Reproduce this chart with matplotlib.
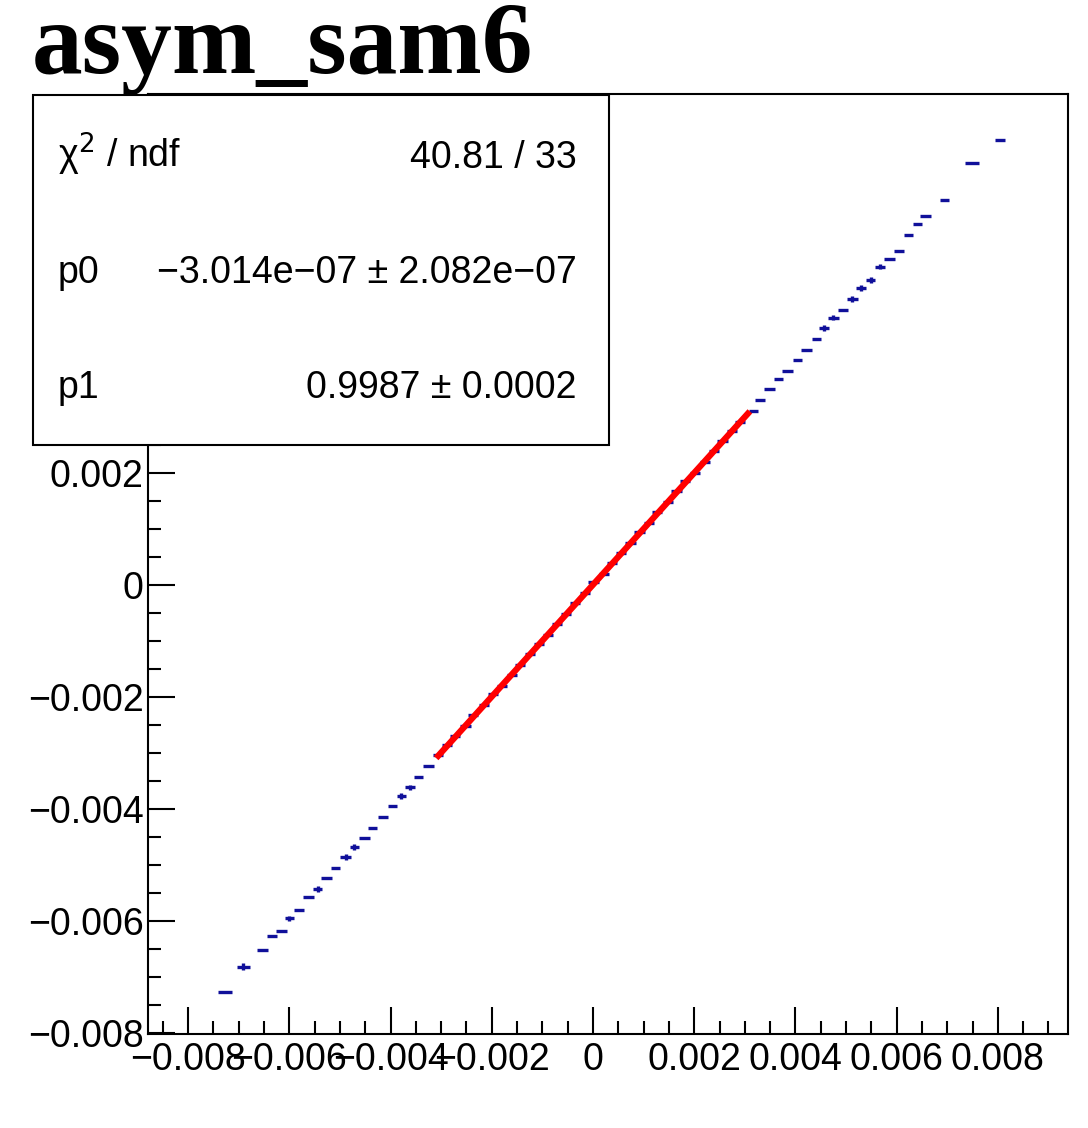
# asym_sam6 : linear fit of asymmetry points

from matplotlib import pyplot as plt
from matplotlib import rcParams
from matplotlib.patches import Rectangle
from matplotlib.ticker import MultipleLocator, FuncFormatter
import numpy as np

rcParams['font.family'] = 'Liberation Sans'
rcParams['axes.linewidth'] = 1.5

# Points (x, y) with errors
x_val = [-0.00727, -0.00691, -0.00653, -0.00635, -0.00615, -0.00600, -0.00581,
         -0.00563, -0.00544, -0.00526, -0.00508, -0.00489, -0.00472, -0.00452,
         -0.00435, -0.00415, -0.00397, -0.00379, -0.00362, -0.00344, -0.00325,
         -0.00307, -0.00289, -0.00272, -0.00252, -0.00237, -0.00216, -0.00198,
         -0.00180, -0.00160, -0.00144, -0.00124, -0.00106, -0.00089, -0.00071,
         -0.00053, -0.00035, -0.00015, 0.00001, 0.00021, 0.00038, 0.00055,
         0.00074, 0.00092, 0.00110, 0.00126, 0.00148, 0.00165, 0.00182,
         0.00202, 0.00222, 0.00239, 0.00256, 0.00275, 0.00291, 0.00317,
         0.00330, 0.00349, 0.00367, 0.00385, 0.00404, 0.00422, 0.00441,
         0.00457, 0.00475, 0.00494, 0.00512, 0.00530, 0.00549, 0.00567,
         0.00586, 0.00604, 0.00623, 0.00641, 0.00657, 0.00694, 0.00749, 0.00804]
y_val = [-0.00728, -0.00682, -0.00652, -0.00628, -0.00619, -0.00596, -0.00581,
         -0.00557, -0.00543, -0.00524, -0.00505, -0.00486, -0.00468, -0.00453,
         -0.00434, -0.00415, -0.00395, -0.00377, -0.00362, -0.00343, -0.00324,
         -0.00304, -0.00286, -0.00271, -0.00252, -0.00233, -0.00214, -0.00195,
         -0.00181, -0.00162, -0.00143, -0.00124, -0.00105, -0.00090, -0.00071,
         -0.00052, -0.00033, -0.00014, 0.00005, 0.00019, 0.00038, 0.00056,
         0.00075, 0.00095, 0.00110, 0.00129, 0.00148, 0.00167, 0.00186,
         0.00200, 0.00219, 0.00238, 0.00257, 0.00275, 0.00291, 0.00310,
         0.00330, 0.00349, 0.00368, 0.00382, 0.00401, 0.00420, 0.00439,
         0.00458, 0.00477, 0.00491, 0.00510, 0.00530, 0.00544, 0.00568,
         0.00582, 0.00596, 0.00625, 0.00644, 0.00658, 0.00687, 0.00753, 0.00795]
x_err = [0.00014, 0.00013, 0.00011, 0.00010, 0.00011, 0.00009, 0.00009,
         0.00011, 0.00009, 0.00011, 0.00009, 0.00010, 0.00009, 0.00011,
         0.00009, 0.00010, 0.00009, 0.00009, 0.00010, 0.00009, 0.00010,
         0.00010, 0.00010, 0.00010, 0.00010, 0.00010, 0.00010, 0.00010,
         0.00010, 0.00010, 0.00010, 0.00010, 0.00010, 0.00010, 0.00010,
         0.00010, 0.00010, 0.00010, 0.00010, 0.00010, 0.00010, 0.00010,
         0.00010, 0.00010, 0.00010, 0.00010, 0.00010, 0.00010, 0.00010,
         0.00010, 0.00010, 0.00010, 0.00010, 0.00010, 0.00010, 0.00009,
         0.00009, 0.00011, 0.00009, 0.00011, 0.00009, 0.00011, 0.00009,
         0.00010, 0.00011, 0.00009, 0.00011, 0.00010, 0.00009, 0.00010,
         0.00011, 0.00010, 0.00009, 0.00009, 0.00010, 0.00009, 0.00013, 0.00010]
y_err = [0.0, 0.00006, 0.0, 0.0, 0.0, 0.00005, 0.0,
         0.0, 0.00005, 0.0, 0.0, 0.00005, 0.00005, 0.0,
         0.0, 0.0, 0.0, 0.00005, 0.00005, 0.0, 0.0,
         0.0, 0.0, 0.0, 0.0, 0.0, 0.0, 0.0,
         0.0, 0.0, 0.0, 0.0, 0.0, 0.0, 0.0,
         0.0, 0.0, 0.0, 0.0, 0.0, 0.0, 0.0,
         0.0, 0.0, 0.0, 0.0, 0.0, 0.0, 0.0,
         0.0, 0.0, 0.0, 0.0, 0.0, 0.0, 0.0,
         0.0, 0.0, 0.0, 0.0, 0.0, 0.0, 0.0,
         0.00005, 0.00005, 0.0, 0.00005, 0.00005, 0.00006, 0.00005,
         0.0, 0.0, 0.0, 0.0, 0.0, 0.0, 0.0, 0.0]

# Fit result (pol1) and range
p0 = -3.014e-07
p1 = 0.9987
fit_range = [-0.0031, 0.0031]
stats_left = ["\u03c7$^{2}$ / ndf", "p0", "p1"]
stats_right = ["40.81 / 33",
               "\u22123.014e\u221207 \u00b1 2.082e\u221207",
               "0.9987 \u00b1 0.0002"]

W, H = 1088, 1128
fig = plt.figure(figsize=(W/100, H/100), dpi=100)
a = fig.add_axes([148/W, 1-1034/H, 920/W, 940/H])

a.errorbar(x_val, y_val, xerr=x_err, yerr=y_err, fmt='none',
           ecolor='#10109a', elinewidth=2.4, capsize=0, zorder=2)

xf = np.array(fit_range)
a.plot(xf, p0 + p1*xf, color='#ff0000', lw=4.5, zorder=3, solid_capstyle='butt')

a.set_xlim(-0.008794, 0.009387)
a.set_ylim(-0.008023, 0.008763)

def fmt(v, pos):
    if abs(v) < 1e-12:
        return '0'
    return ('%.3f' % v).replace('-', '\u2212')

def fmt_y(v, pos):
    # labels above 0.002 sit under the stats box
    if v > 0.003:
        return ''
    return fmt(v, pos)

for axis in [a.xaxis, a.yaxis]:
    axis.set_major_locator(MultipleLocator(0.002))
    axis.set_minor_locator(MultipleLocator(0.0005))
a.xaxis.set_major_formatter(FuncFormatter(fmt))
a.yaxis.set_major_formatter(FuncFormatter(fmt_y))

a.tick_params(which='both', direction='in', top=False, right=False,
              width=1.5, labelsize=27, colors='k')
a.tick_params(which='major', length=19.5)
a.tick_params(which='minor', length=9.5)
a.tick_params(axis='x', pad=6)
a.tick_params(axis='y', pad=3)

# Title
fig.text(32/W, 1-73/H, 'asym_sam6', family='Liberation Serif',
         fontweight='bold', fontsize=73, va='baseline', ha='left')

# Stats box
box = Rectangle((33/W, 1-445/H), 576/W, 350/H, transform=fig.transFigure,
                facecolor='white', edgecolor='black', lw=1.5, zorder=5)
fig.add_artist(box)
rows = [168, 283, 398]
for i in range(3):
    fig.text(58/W, 1-rows[i]/H, stats_left[i], fontsize=27, va='baseline',
             ha='left', zorder=6)
    fig.text(577/W, 1-rows[i]/H, stats_right[i], fontsize=27, va='baseline',
             ha='right', zorder=6)

fig.savefig('out.png', dpi=100)
